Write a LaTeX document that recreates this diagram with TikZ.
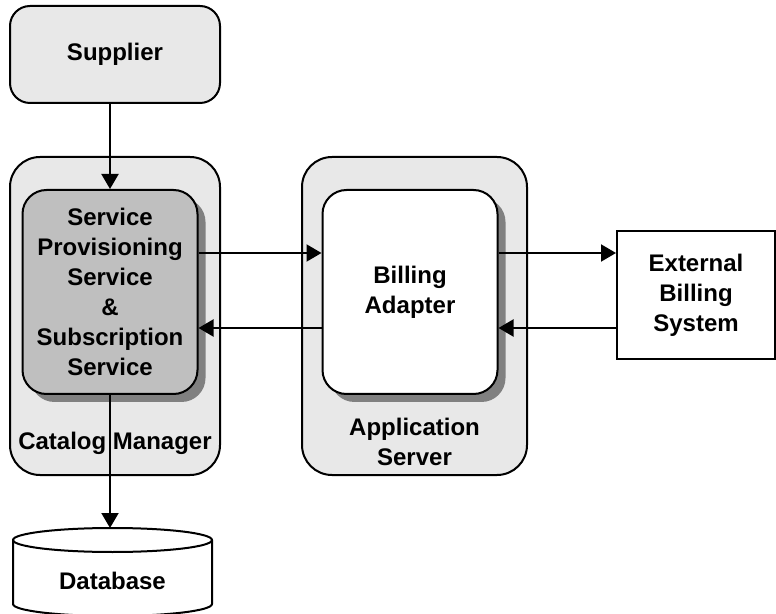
\documentclass[tikz,border=0pt]{standalone}
\usepackage{fontspec}
\setmainfont{Liberation Sans}
\usepackage{tikz}
\usetikzlibrary{arrows.meta}
\usetikzlibrary{shadows}

\tikzset{
  outerbox/.style={draw,fill=black!9,rounded corners=15pt,minimum width=#1,minimum height=159pt,inner sep=0pt},
  innerbox/.style={draw,rounded corners=12pt,minimum width=87.5pt,minimum height=102pt,inner sep=0pt,
    drop shadow={shadow xshift=4pt,shadow yshift=-4pt,fill=black!50,opacity=1}}
}

\begin{document}
\begin{tikzpicture}[x=0.5pt,y=-0.5pt,line width=1pt,
    font=\bfseries\fontsize{12}{15}\selectfont,
    every node/.style={align=center},
    >={Triangle[length=7.5pt,width=8.5pt]}]
          \useasboundingbox (0,0) rectangle (776,614);
          % supplier
          \node[draw,fill=black!9,rounded corners=10pt,minimum width=105pt,minimum height=48.5pt] (supplier) at (115,54.5) {Supplier};
          % catalog manager
          \node[outerbox=105pt] (catalog) at (115,316) {};
          \node (catlabel) at (115,443) {Catalog Manager};
          \node[innerbox,fill=black!25] (sps) at (110,292) {Service\\Provisioning\\Service\\\&\\Subscription\\Service};
          % application server
          \node[outerbox=112.5pt] (appserver) at (414.5,316) {};
          \node (applabel) at (414.5,441.5) {Application\\Server};
          \node[innerbox,fill=white] (billing) at (410,292) {Billing\\Adapter};
          % external billing system
          \node[draw,fill=white,minimum width=79pt,minimum height=64pt] (ext) at (696,295) {External\\Billing\\System};
          % database
          \draw[fill=white] (13,540) -- (13,604) arc[start angle=180,end angle=360,x radius=49.75pt,y radius=6pt]
            -- (212,540) arc[start angle=0,end angle=180,x radius=49.75pt,y radius=6pt] -- cycle;
          \draw (13,540) arc[start angle=180,end angle=360,x radius=49.75pt,y radius=6pt];
          \coordinate (dbtop) at (112.5,528);
          \node (db) at (112.5,581) {Database};
          % arrows
          \draw[->] (supplier.south -| sps.north) -- (sps.north);
          \draw[->] (sps.south) -- (sps.south |- dbtop);
          \draw[->] ([yshift=19.5pt]sps.east) -- ([yshift=19.5pt]billing.west);
          \draw[->] ([yshift=-18pt]billing.west) -- ([yshift=-18pt]sps.east);
          \draw[->] ([yshift=19.5pt]billing.east) -- ([yshift=21pt]ext.west);
          \draw[->] ([yshift=-16.5pt]ext.west) -- ([yshift=-18pt]billing.east);
        \end{tikzpicture}
\end{document}
